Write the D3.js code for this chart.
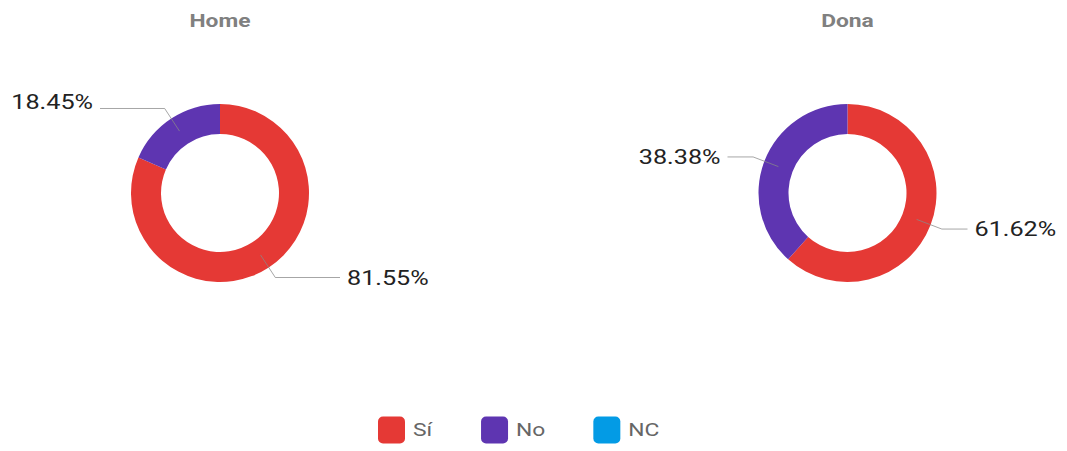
<!DOCTYPE html>
<html>
<head>
<meta charset="utf-8">
<script src="https://cdn.jsdelivr.net/npm/d3@7"></script>
<style>
    body { margin: 0; background: #fff; }
    svg { display: block; font-family: Roboto, "Noto Sans", sans-serif; }
</style>
</head>
<body>
<svg id="chart" width="1067" height="451"></svg>
<script>
// data
const CATEGORIES = ["Sí", "No", "NC"];
const COLORS = ["#e53935", "#5e35b1", "#039be5"];
const CHART_TITLES = ["Home", "Dona"];
const HOME_VALUES = [81.55, 18.45, 0];
const DONA_VALUES = [61.62, 38.38, 0];

const SVG = d3.select("#chart");
const STRETCH = 1.2; // text in the reference is drawn a bit wide

const colorScale = d3.scaleOrdinal().domain(CATEGORIES).range(COLORS);
const centerX = d3.scalePoint().domain(CHART_TITLES).range([220, 847.5]);

const OUTER = 89, INNER = 59, MID = 74, ELBOW = 101, LINE_END = 120, TEXT_GAP = 7;
const CY = 193;

function wideText(parent, x, y, str) {
    return parent.append("text")
        .attr("transform", `translate(${x},${y}) scale(${STRETCH},1)`)
        .text(str);
}

const pie = d3.pie().sort(null).value(d => d.value);
const arc = d3.arc().innerRadius(INNER).outerRadius(OUTER);

function drawDonut(title, values) {
    const cx = centerX(title);
    const g = SVG.append("g").attr("transform", `translate(${cx},${CY})`);

    wideText(SVG, cx, 27, title)
        .attr("text-anchor", "middle")
        .attr("font-size", 19)
        .attr("font-weight", "bold")
        .attr("fill", "#808080");

    const data = CATEGORIES.map((c, i) => ({ cat: c, value: values[i] }));
    const arcs = pie(data).filter(d => d.data.value > 0);

    g.selectAll("path.slice")
        .data(arcs)
        .join("path")
        .attr("class", "slice")
        .attr("d", arc)
        .attr("fill", d => colorScale(d.data.cat));

    arcs.forEach(d => {
        const a = (d.startAngle + d.endAngle) / 2;
        const sx = Math.sin(a), sy = -Math.cos(a);
        const right = sx >= 0;
        const ex = sx * ELBOW, ey = sy * ELBOW;
        // label above the ring is pushed up a little in the reference
        const textY = ey + (sy < -0.6 ? -7 : 0);
        const endX = right ? LINE_END : -LINE_END;

        g.append("polyline")
            .attr("points", [[sx * MID, sy * MID], [ex, ey], [endX, ey]].map(p => p.join(",")).join(" "))
            .attr("fill", "none")
            .attr("stroke", "#888")
            .attr("stroke-opacity", 0.75)
            .attr("stroke-width", 1);

        wideText(g, right ? endX + TEXT_GAP : endX - TEXT_GAP, textY, d.data.value.toFixed(2) + "%")
            .attr("text-anchor", right ? "start" : "end")
            .attr("dominant-baseline", "central")
            .attr("font-size", 21)
            .attr("fill", "#222");
    });
}

drawDonut("Home", HOME_VALUES);
drawDonut("Dona", DONA_VALUES);

// legend
const legend = SVG.append("g").attr("transform", "translate(378,430)");
let lx = 0;
CATEGORIES.forEach(cat => {
    const item = legend.append("g").attr("transform", `translate(${lx},0)`);
    item.append("rect")
        .attr("x", 0).attr("y", -13.5)
        .attr("width", 27).attr("height", 27)
        .attr("rx", 5)
        .attr("fill", colorScale(cat));
    const t = wideText(item, 35, 0, cat)
        .attr("dominant-baseline", "central")
        .attr("font-size", 19)
        .attr("fill", "#666");
    lx += 35 + t.node().getBBox().width * STRETCH + 48;
});
</script>
</body>
</html>
